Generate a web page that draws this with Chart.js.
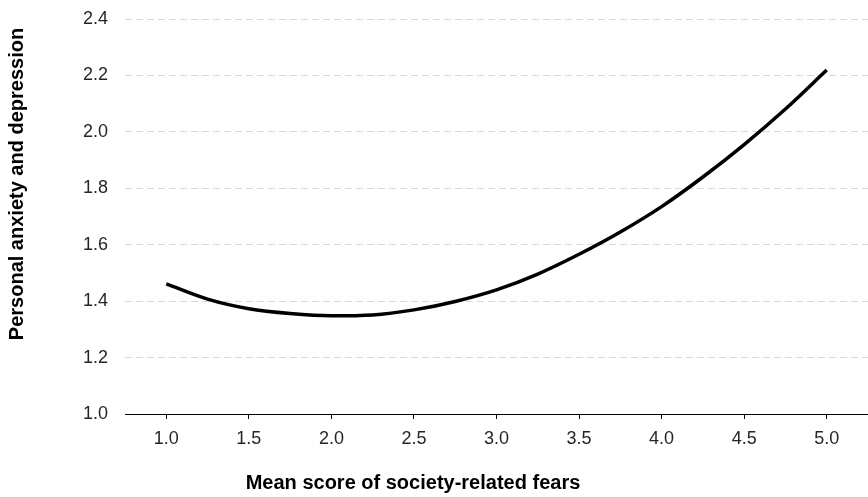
<!DOCTYPE html>
<html>
<head>
<meta charset="utf-8">
<script src="https://cdn.jsdelivr.net/npm/chart.js@4"></script>
<style>
  html, body { margin: 0; padding: 0; background: #fff; }
  #wrap { width: 868px; height: 497px; }
</style>
</head>
<body>
<div id="wrap"><canvas id="chart" width="868" height="497"></canvas></div>
<script>
// fear score (x) and predicted anxiety/depression (y)
const fearScores = [1.0, 1.25, 1.5, 1.75, 2.0, 2.25, 2.5, 2.75, 3.0, 3.25, 3.5, 3.75, 4.0, 4.25, 4.5, 4.75, 5.0];
const anxietyValues = [1.461, 1.407, 1.373, 1.356, 1.348, 1.351, 1.369, 1.399, 1.440, 1.496, 1.566, 1.645, 1.735, 1.840, 1.955, 2.081, 2.219];
const xTickValues = [1.0, 1.5, 2.0, 2.5, 3.0, 3.5, 4.0, 4.5, 5.0];
const yTickValues = [1.0, 1.2, 1.4, 1.6, 1.8, 2.0, 2.2, 2.4];

const xTitle = 'Mean score of society-related fears';
const yTitle = 'Personal anxiety and depression';

const font = "'Liberation Sans', Arial, sans-serif";

// axis titles sit off-centre in the original, so draw them by hand
const titlesPlugin = {
    id: 'axisTitles',
    afterDraw(chart) {
        const ctx = chart.ctx;
        ctx.save();
        ctx.fillStyle = '#000';
        ctx.font = 'bold 20px ' + font;
        ctx.textAlign = 'center';
        ctx.textBaseline = 'middle';
        ctx.fillText(xTitle, 413, 483);
        ctx.translate(17, 184);
        ctx.rotate(-Math.PI / 2);
        ctx.fillText(yTitle, 0, 0);
        ctx.restore();
    }
};

const ctx = document.getElementById('chart').getContext('2d');
new Chart(ctx, {
    type: 'line',
    data: {
        datasets: [{
            data: fearScores.map((x, i) => ({ x: x, y: anxietyValues[i] })),
            borderColor: '#000',
            borderWidth: 3.5,
            pointRadius: 0,
            cubicInterpolationMode: 'monotone',
            fill: false,
        }],
    },
    options: {
        responsive: false,
        animation: false,
        layout: { padding: { top: 19, right: 0, bottom: 0, left: 0 } },
        plugins: {
            legend: { display: false },
            tooltip: { enabled: false },
        },
        scales: {
            x: {
                type: 'linear',
                min: 0.75,
                max: 5.25,
                afterBuildTicks: (axis) => {
                    axis.ticks = xTickValues.map((v) => ({ value: v }));
                },
                afterFit: (axis) => { axis.height = 83; },
                grid: {
                    drawOnChartArea: false,
                    drawTicks: true,
                    tickLength: 5,
                    color: '#000',
                },
                border: { display: true, color: '#000', width: 1 },
                ticks: {
                    color: '#262626',
                    font: { family: font, size: 18 },
                    padding: 9,
                    maxRotation: 0,
                    callback: (v) => Number(v).toFixed(1),
                },
            },
            y: {
                min: 1.0,
                max: 2.4,
                afterBuildTicks: (axis) => {
                    axis.ticks = yTickValues.map((v) => ({ value: v }));
                },
                afterFit: (axis) => {
                    axis.width = 125;
                    axis.paddingTop = 0;
                    axis.paddingBottom = 0;
                },
                grid: {
                    drawTicks: false,
                    color: '#d9d9d9',
                    lineWidth: 1,
                },
                border: { display: false, dash: [7, 4] },
                ticks: {
                    color: '#262626',
                    font: { family: font, size: 18 },
                    padding: 17,
                    callback: (v) => Number(v).toFixed(1),
                },
            },
        },
    },
    plugins: [titlesPlugin],
});
</script>
</body>
</html>
